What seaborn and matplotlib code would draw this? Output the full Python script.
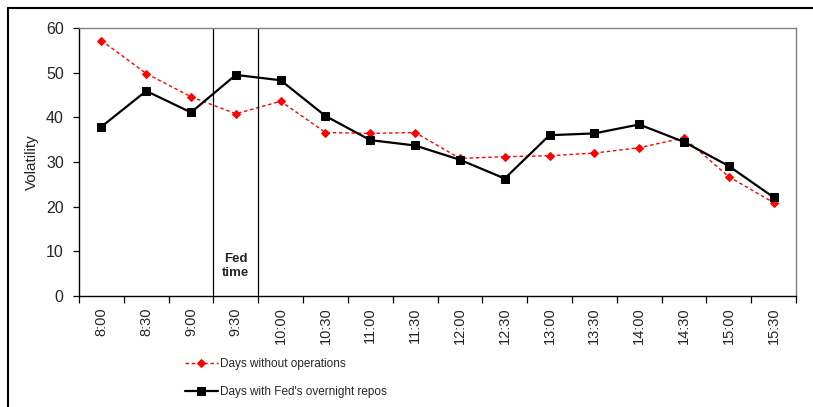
import matplotlib
matplotlib.use("Agg")
import matplotlib.pyplot as plt
from matplotlib.lines import Line2D
import seaborn as sns
import pandas as pd
import numpy as np

times = ["8:00", "8:30", "9:00", "9:30", "10:00", "10:30", "11:00", "11:30",
         "12:00", "12:30", "13:00", "13:30", "14:00", "14:30", "15:00", "15:30"]
no_ops = [57.2, 49.8, 44.6, 40.8, 43.6, 36.6, 36.4, 36.6,
          30.8, 31.2, 31.4, 32.0, 33.2, 35.4, 26.7, 20.9]
fed_repos = [37.9, 45.9, 41.1, 49.5, 48.3, 40.3, 34.9, 33.7,
             30.5, 26.3, 36.0, 36.4, 38.4, 34.5, 29.1, 22.1]
yticks = [0, 10, 20, 30, 40, 50, 60]

sns.set_theme(style="white")
plt.rcParams["font.family"] = ["Liberation Sans", "DejaVu Sans"]

fig = plt.figure(figsize=(8.13, 4.07), dpi=100)
ax = fig.add_axes([79/813, 1-296/407, (796-79)/813, (296-28)/407])

idx = np.arange(len(times))
df = pd.DataFrame({"idx": idx, "no_ops": no_ops, "fed": fed_repos})

sns.lineplot(data=df, x="idx", y="no_ops", ax=ax, color="#ff0000", lw=1.0,
             marker="D", markersize=4.5, markeredgecolor="#ff0000",
             label="Days without operations")
ax.lines[-1].set_dashes((2.5, 2))
sns.lineplot(data=df, x="idx", y="fed", ax=ax, color="black", lw=1.6,
             marker="s", markersize=5.5, markeredgecolor="black",
             label="Days with Fed's overnight repos")

ax.axvline(2.5, color="black", lw=0.9)
ax.axvline(3.5, color="black", lw=0.9)
ax.text(3.0, 6.8, "Fed\ntime", ha="center", va="center", fontsize=9.5,
        fontweight="bold", linespacing=1.25)

ax.set_xlim(-0.5, len(times) - 0.5)
ax.set_ylim(0, 60)
ax.set_yticks(yticks)
ax.set_yticklabels([str(v) for v in yticks], fontsize=11.5)
ax.set_xticks(idx)
ax.set_xticklabels(times, rotation=90, fontsize=10.5)
ax.set_xticks(np.arange(-0.5, len(times)), minor=True)
ax.tick_params(axis="x", which="major", length=0, pad=8)
ax.tick_params(axis="x", which="minor", length=5, width=0.9, color="black", bottom=True)
ax.tick_params(axis="y", which="major", length=4, width=0.9, color="black", left=True, pad=7)
ax.set_xlabel("")
ax.set_ylabel("Volatility", fontsize=11, labelpad=5)
ax.grid(False)

for s in ["left", "bottom"]:
    ax.spines[s].set_color("black")
    ax.spines[s].set_linewidth(1.0)
for s in ["top", "right"]:
    ax.spines[s].set_color("#808080")
    ax.spines[s].set_linewidth(1.0)

handles, labels = ax.get_legend_handles_labels()
ax.get_legend().remove()
fig.legend(handles, labels, loc="upper left", bbox_to_anchor=(180/813, 1-353/407),
           frameon=False, prop={"size": 8.5},
           handlelength=2.8, handletextpad=0.15,
           labelspacing=1.35, borderaxespad=0)

# outer frame (top and left lines)
fig.add_artist(Line2D([8/813, 1.0], [1-8/407, 1-8/407], transform=fig.transFigure,
                      color="black", lw=1.5))
fig.add_artist(Line2D([8/813, 8/813], [0, 1-8/407], transform=fig.transFigure,
                      color="black", lw=1.5))

fig.savefig("out.png", dpi=100)
